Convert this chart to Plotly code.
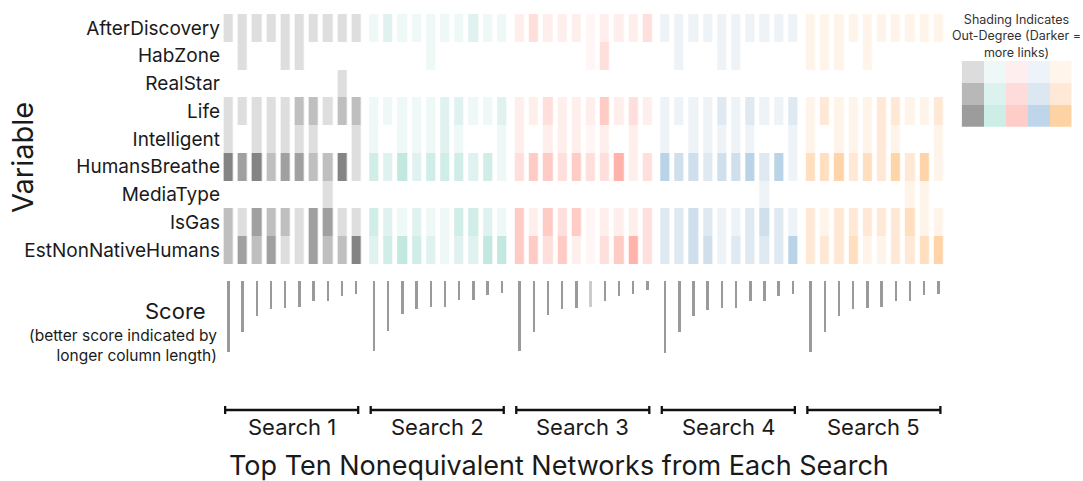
import plotly.graph_objects as go

# ---------------- data ----------------
variables = ["AfterDiscovery", "HabZone", "RealStar", "Life", "Intelligent",
             "HumansBreathe", "MediaType", "IsGas", "EstNonNativeHumans"]
search_names = ["Search 1", "Search 2", "Search 3", "Search 4", "Search 5"]
N = None

# shading level (out-degree class) per variable row x top-ten network column
search1 = [
    [1, 1, 1, 1, 1, 1, 1, 1, 1, 1],
    [N, 1, N, N, 1, 1, N, N, N, N],
    [N, N, N, N, N, N, N, N, 1, N],
    [1, 1, 1, 1, 1, 2, 2, 1, 2, 2],
    [1, N, 1, 1, 1, 1, 1, N, N, 1],
    [4, 3, 4, 2, 3, 3, 2, 2, 4, 1],
    [N, N, N, N, N, N, N, 1, N, N],
    [2, 1, 3, 2, 2, 1, 3, 3, 1, 1],
    [2, 3, 2, 3, 1, 1, 3, 2, 2, 4],
]
search2 = [
    [1, 2, 1, 1, 1, 1, 1, 2, 1, 1],
    [N, N, N, N, 1, N, N, N, N, N],
    [N, N, N, N, N, N, N, N, N, N],
    [1, 1, 1, 1, 1, 2, 2, 1, 1, 2],
    [1, N, 1, 1, 1, 2, 1, N, N, 1],
    [3, 2, 4, 2, 3, 3, 3, 2, 3, 1],
    [N, N, N, N, N, N, N, N, N, N],
    [3, 2, 1, 2, 1, 1, 3, 3, 2, 1],
    [2, 3, 4, 3, 2, 1, 2, 2, 4, 4],
]
search3 = [
    [1, 2, 1, 1, 1, 0, 1, 1, 1, 2],
    [N, N, N, N, N, 0, 2, N, N, N],
    [N, N, N, N, N, N, N, N, N, N],
    [1, 1, 2, 1, 1, 1, 3, 1, 2, 1],
    [1, N, 1, 1, 1, 0, 1, N, 1, N],
    [2, 3, 3, 2, 3, 2, 2, 4, 1, 2],
    [N, N, N, N, N, N, N, N, N, N],
    [3, 1, 3, 2, 3, 0, 1, 1, 1, 2],
    [3, 3, 2, 3, 1, 0, 2, 3, 4, 2],
]
search4 = [
    [1, 1, 1, 1, 1, 1, 1, 1, 1, 1],
    [N, 1, N, N, 1, 1, N, N, N, N],
    [N, N, N, N, N, N, N, N, N, N],
    [1, 1, 1, 1, 2, 1, 2, 1, 1, 2],
    [1, N, 1, 1, 1, 1, 1, N, N, 1],
    [4, 3, 3, 2, 3, 3, 4, 2, 4, 1],
    [N, N, N, N, N, N, N, 1, N, N],
    [2, 2, 3, 2, 1, 1, 2, 3, 2, 1],
    [2, 2, 3, 3, 1, 2, 2, 2, 2, 4],
]
search5 = [
    [1, 1, 1, 1, 1, 1, 1, 1, 1, 1],
    [1, 1, 1, N, 1, N, N, N, N, N],
    [N, N, N, N, N, N, N, N, N, N],
    [1, 2, 1, 1, 1, 2, 2, 1, 1, 2],
    [1, N, 1, 1, 1, 2, 1, N, N, 1],
    [3, 3, 4, 2, 3, 2, 4, 2, 4, 1],
    [N, N, N, N, N, N, N, 1, 1, N],
    [2, 1, 2, 2, 2, 2, 2, 3, 1, 1],
    [2, 2, 2, 3, 1, 1, 2, 2, 3, 4],
]
searches = [search1, search2, search3, search4, search5]

# score (longer column = better score)
score1 = [71, 51, 35, 28, 27, 26, 20, 20, 15, 13]
score2 = [70, 50, 33, 28, 26, 26, 19, 19, 14, 12]
score3 = [70, 51, 34, 28, 27, 26, 20, 15, 13, 9]
score4 = [71.5, 51, 35, 28.5, 27, 26.5, 20, 20, 14.5, 13]
score5 = [71, 51, 35, 28, 27, 26, 20, 20, 14, 13]
scores = [score1, score2, score3, score4, score5]

# ---------------- styles ----------------
palettes = [
    ["#eeeeee", "#dedede", "#bfbfbf", "#a0a0a0", "#848484"],
    ["#f6fbfa", "#eef8f6", "#dff2ef", "#d0ede7", "#c3e8e0"],
    ["#fff6f5", "#ffefec", "#ffdfdb", "#ffcbc5", "#ffb3aa"],
    ["#f6f9fc", "#eef3f8", "#dfe9f2", "#cfe0ec", "#bad4e7"],
    ["#fffaf5", "#fff4ea", "#ffe9d6", "#ffdfc0", "#ffd4a9"],
]
legend_colors = [
    ["#dcdcdc", "#eef8f7", "#ffeeee", "#edf3f8", "#fff5ea"],
    ["#b8b8b8", "#dcf2ee", "#ffdcdc", "#dce8f1", "#ffe9d6"],
    ["#9c9c9c", "#cdeee6", "#ffcdc8", "#bfd6ea", "#fdd3a4"],
]
FONT = "Inter"
TXT = "#1a1a1a"
W, H = 1083, 481
PITCH = 14.2           # px per column unit
X0 = 228.7             # px of first column centre
SEARCH_STEP = 10.25    # column units between searches


def px(xp):
    return xp / W


def py(yp):
    return 1 - yp / H


def discrete_scale(colors):
    n = len(colors)
    cs = []
    for i, c in enumerate(colors):
        cs.append([i / n, c])
        cs.append([(i + 1) / n, c])
    return cs


fig = go.Figure()

col_x = [[s * SEARCH_STEP + c for c in range(10)] for s in range(5)]

# heat cells
for s in range(5):
    fig.add_trace(go.Heatmap(
        z=searches[s], x=col_x[s], y=list(range(len(variables))),
        colorscale=discrete_scale(palettes[s]), zmin=-0.5, zmax=4.5,
        showscale=False, xgap=4.8, ygap=0, hoverongaps=False,
        xaxis="x", yaxis="y"))

# score columns
for s in range(5):
    cols = ["#cccccc" if (s == 2 and i == 5) else "#9a9a9a" for i in range(10)]
    fig.add_trace(go.Bar(
        x=col_x[s], y=[-v for v in scores[s]], width=0.14,
        marker=dict(color=cols, line=dict(width=0)),
        xaxis="x", yaxis="y2", showlegend=False))

# brackets
for s in range(5):
    a = col_x[s][0] - 0.25
    b = col_x[s][-1] + 0.12
    fig.add_trace(go.Scatter(
        x=[a, b, None, a, a, None, b, b], y=[0, 0, None, -4, 4, None, -4, 4],
        mode="lines", line=dict(color="#111111", width=2.3),
        xaxis="x", yaxis="y3", showlegend=False, hoverinfo="skip"))

# legend swatches
legend_z = [[r * 5 + c for c in range(5)] for r in range(3)]
flat_legend = [c for row in legend_colors for c in row]
fig.add_trace(go.Heatmap(
    z=legend_z, x=list(range(5)), y=list(range(3)),
    colorscale=discrete_scale(flat_legend), zmin=-0.5, zmax=14.5,
    showscale=False, xgap=0, ygap=0, xaxis="x2", yaxis="y4", hoverinfo="skip"))

annotations = []
for s in range(5):
    a = col_x[s][0] - 0.25
    b = col_x[s][-1] + 0.12
    annotations.append(dict(
        x=(a + b) / 2, y=py(427), xref="x", yref="paper", text=search_names[s],
        showarrow=False, xanchor="center", yanchor="middle",
        font=dict(family=FONT, size=22, color=TXT)))

annotations += [
    dict(x=px(22), y=py(158), xref="paper", yref="paper", text="Variable",
         textangle=-90, showarrow=False, xanchor="center", yanchor="middle",
         font=dict(family=FONT, size=29, color=TXT)),
    dict(x=px(175), y=py(311), xref="paper", yref="paper", text="Score",
         showarrow=False, xanchor="center", yanchor="middle",
         font=dict(family=FONT, size=22, color=TXT)),
    dict(x=px(219), y=py(345), xref="paper", yref="paper",
         text="(better score indicated by<br>longer column length)",
         showarrow=False, xanchor="right", yanchor="middle", align="right",
         font=dict(family=FONT, size=15.5, color=TXT)),
    dict(x=px(559), y=py(465), xref="paper", yref="paper",
         text="Top Ten Nonequivalent Networks from Each Search",
         showarrow=False, xanchor="center", yanchor="middle",
         font=dict(family=FONT, size=27, color=TXT)),
    dict(x=px(1016), y=py(36), xref="paper", yref="paper",
         text="Shading Indicates<br>Out-Degree (Darker =<br>more links)",
         showarrow=False, xanchor="center", yanchor="middle", align="center",
         font=dict(family=FONT, size=12.5, color="#333333")),
]

xr = [(0 - X0) / PITCH, (W - X0) / PITCH]

fig.update_layout(
    width=W, height=H, margin=dict(l=0, r=0, t=0, b=0),
    paper_bgcolor="white", plot_bgcolor="rgba(0,0,0,0)",
    showlegend=False, bargap=0,
    xaxis=dict(domain=[0, 1], range=xr, visible=False, fixedrange=True),
    yaxis=dict(domain=[py(264), py(14)], range=[8.5, -0.5], anchor="free",
               position=px(223), tickmode="array",
               tickvals=list(range(len(variables))), ticktext=variables,
               ticks="", showline=False, showgrid=False, zeroline=False,
               ticklabelstandoff=3,
               tickfont=dict(family=FONT, size=19, color=TXT)),
    yaxis2=dict(domain=[py(353), py(281)], range=[-72, 0], anchor="x",
                visible=False),
    yaxis3=dict(domain=[py(420), py(400)], range=[-10, 10], anchor="x",
                visible=False),
    xaxis2=dict(domain=[px(961.7), px(1071.7)], range=[-0.5, 4.5],
                anchor="y4", visible=False),
    yaxis4=dict(domain=[py(126.7), py(61)], range=[2.5, -0.5], anchor="x2",
                visible=False),
    annotations=annotations,
)

fig.write_html("out.html")
